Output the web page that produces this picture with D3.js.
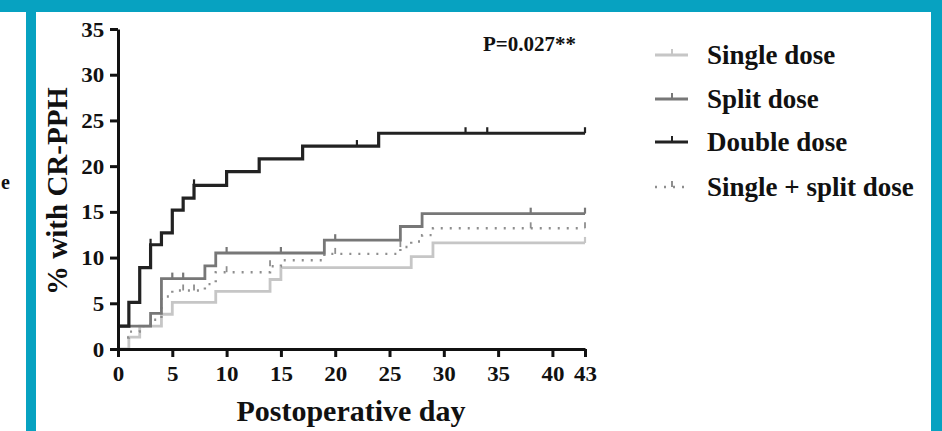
<!DOCTYPE html>
<html lang="en">
<head>
  <meta charset="UTF-8">
  <script src="https://d3js.org/d3.v7.min.js"></script>
  <style>
    body { margin: 0; background: white; }
    text { font-family: "Liberation Serif", "Times New Roman", serif; font-weight: bold; fill: #111; }
  </style>
</head>
<body>
  <div id="chart"></div>
  <script>
    // values (percent with CR-PPH by postoperative day)
    const singleDays = [0, 1, 2, 4, 5, 9, 14, 15, 27, 29, 43];
    const singleVals = [0, 1.3, 2.5, 3.8, 5.1, 6.3, 7.6, 8.9, 10.1, 11.6, 11.6];
    const singleCens = [43];

    const splitDays = [0, 3, 4, 8, 9, 19, 26, 28, 43];
    const splitVals = [2.5, 3.9, 7.7, 9.1, 10.5, 11.9, 13.4, 14.8, 14.8];
    const splitCens = [5, 6, 10, 15, 20, 38, 43];

    const doubleDays = [0, 1, 2, 3, 4, 5, 6, 7, 10, 13, 17, 24, 43];
    const doubleVals = [2.5, 5.1, 8.9, 11.4, 12.7, 15.2, 16.5, 17.9, 19.4, 20.8, 22.2, 23.6, 23.6];
    const doubleCens = [3, 7, 22, 32, 34, 43];

    const comboDays = [0, 1, 2, 3, 4, 5, 8, 9, 14, 15, 19, 26, 27, 28, 29, 43];
    const comboVals = [1.25, 1.9, 2.5, 3.2, 5.75, 6.4, 7.1, 8.4, 9.05, 9.7, 10.4, 11.15, 11.75, 12.45, 13.2, 13.2];
    const comboCens = [6, 7, 10, 14, 20, 26, 38, 43];

    const seriesNames = ["Single dose", "Split dose", "Double dose", "Single + split dose"];
    const xTicks = [0, 5, 10, 15, 20, 25, 30, 35, 40, 43];
    const yTicks = [0, 5, 10, 15, 20, 25, 30, 35];

    const W = 942, H = 431;
    const teal = "#07a2c1";

    const svg = d3.select("#chart").append("svg")
      .attr("width", W).attr("height", H);

    svg.append("rect").attr("width", W).attr("height", H).attr("fill", "white");

    // frame bits
    svg.append("rect").attr("x", 0).attr("y", 0).attr("width", W).attr("height", 12).attr("fill", teal);
    svg.append("rect").attr("x", 26).attr("y", 0).attr("width", 10).attr("height", H).attr("fill", teal);
    svg.append("rect").attr("x", 931).attr("y", 0).attr("width", 11).attr("height", H).attr("fill", teal);
    svg.append("text").attr("x", 1).attr("y", 189).style("font-size", "20px").text("e");

    const x = d3.scaleLinear().domain([0, 43]).range([118, 585]);
    const y = d3.scaleLinear().domain([0, 35]).range([349, 29]);

    const series = [
      { name: seriesNames[0], days: singleDays, vals: singleVals, cens: singleCens, color: "#c6c6c6", w: 2.8, dash: null },
      { name: seriesNames[3], days: comboDays, vals: comboVals, cens: comboCens, color: "#8e8e8e", w: 2.4, dash: "2,7" },
      { name: seriesNames[1], days: splitDays, vals: splitVals, cens: splitCens, color: "#777", w: 2.8, dash: null },
      { name: seriesNames[2], days: doubleDays, vals: doubleVals, cens: doubleCens, color: "#222", w: 3.2, dash: null }
    ];

    const line = d3.line()
      .x(d => x(d[0]))
      .y(d => y(d[1]))
      .curve(d3.curveStepAfter);

    function levelAt(s, t) {
      let v = s.vals[0];
      s.days.forEach((d, i) => { if (d <= t) v = s.vals[i]; });
      return v;
    }

    series.forEach(s => {
      const pts = s.days.map((d, i) => [d, s.vals[i]]);
      svg.append("path")
        .datum(pts)
        .attr("d", line)
        .attr("fill", "none")
        .attr("stroke", s.color)
        .attr("stroke-width", s.w)
        .attr("stroke-dasharray", s.dash);

      svg.append("g").selectAll("line")
        .data(s.cens)
        .join("line")
        .attr("x1", d => x(d)).attr("x2", d => x(d))
        .attr("y1", d => y(levelAt(s, d)))
        .attr("y2", d => y(levelAt(s, d)) - 6)
        .attr("stroke", s.color)
        .attr("stroke-width", s.dash ? 1.8 : 2.2);
    });

    // axes
    const xAxis = d3.axisBottom(x).tickValues(xTicks).tickSize(8).tickSizeOuter(0).tickPadding(10);
    const yAxis = d3.axisLeft(y).tickValues(yTicks).tickSize(8).tickSizeOuter(0).tickPadding(4);

    const gx = svg.append("g").attr("transform", `translate(0,${y(0)})`).call(xAxis);
    const gy = svg.append("g").attr("transform", `translate(${x(0)},0)`).call(yAxis);

    [gx, gy].forEach(g => {
      g.select(".domain").attr("stroke", "#111").attr("stroke-width", 3);
      g.selectAll(".tick line").attr("stroke", "#111").attr("stroke-width", 3);
      g.selectAll(".tick text")
        .style("font-family", "'Liberation Serif', serif")
        .style("font-weight", "bold")
        .style("font-size", "20px")
        .attr("fill", "#111")
        .attr("transform", "scale(1.15,1)");
    });
    gy.selectAll(".tick text").attr("dy", "0.35em");

    // axis titles
    svg.append("text")
      .attr("transform", "translate(67,191) rotate(-90)")
      .attr("text-anchor", "middle")
      .style("font-size", "29px")
      .text("% with CR-PPH");

    svg.append("text")
      .attr("x", 351).attr("y", 421)
      .attr("text-anchor", "middle")
      .style("font-size", "30px")
      .text("Postoperative day");

    svg.append("text")
      .attr("x", 483).attr("y", 51)
      .style("font-size", "21px")
      .text("P=0.027**");

    // legend
    const legendOrder = [series[0], series[2], series[3], series[1]];
    const rowsY = [55, 99, 142, 187];
    const lg = svg.append("g");
    legendOrder.forEach((s, i) => {
      const ly = rowsY[i];
      lg.append("line")
        .attr("x1", 655).attr("x2", 688).attr("y1", ly).attr("y2", ly)
        .attr("stroke", s.color).attr("stroke-width", s.w)
        .attr("stroke-dasharray", s.dash);
      lg.append("line")
        .attr("x1", 672).attr("x2", 672).attr("y1", ly).attr("y2", ly - 6)
        .attr("stroke", s.color).attr("stroke-width", 2);
      lg.append("text")
        .attr("x", 707).attr("y", ly + 9)
        .style("font-size", "27px")
        .text(s.name);
    });
  </script>
</body>
</html>
